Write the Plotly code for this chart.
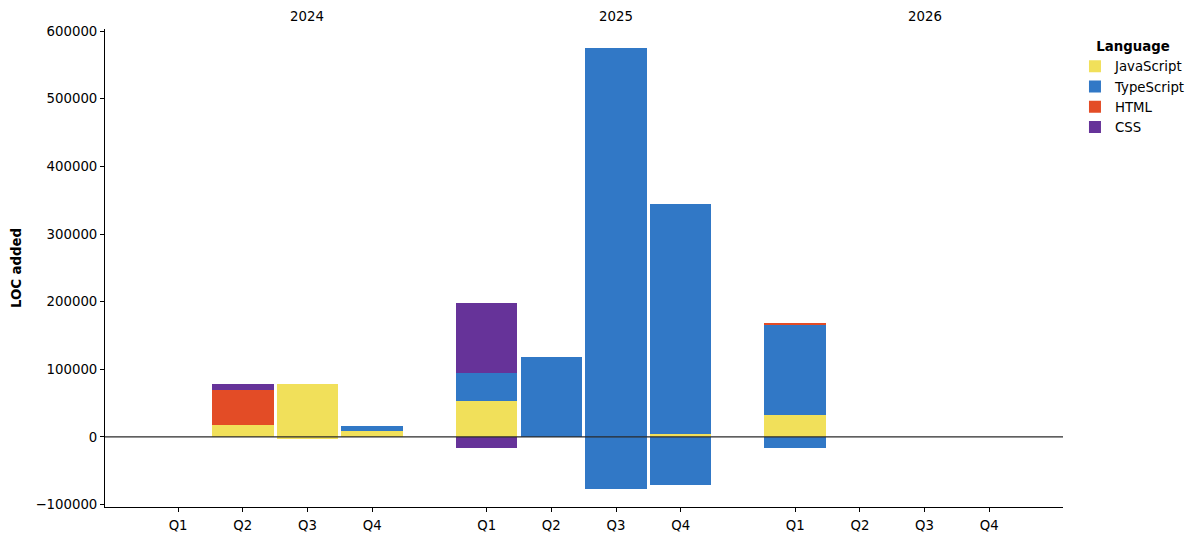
import plotly.graph_objects as go

years = ["2024", "2025", "2026"]
quarters = ["Q1", "Q2", "Q3", "Q4"]
languages = ["JavaScript", "TypeScript", "HTML", "CSS"]
colors = {"JavaScript": "#f1e05a", "TypeScript": "#3178c6", "HTML": "#e34c26", "CSS": "#663399"}

# LOC added per quarter (12 periods: 2024 Q1 .. 2026 Q4)
added_js   = [0, 17700, 78300, 8900, 53200, 0, 0, 4400, 32500, 0, 0, 0]
added_ts   = [0, 0, 0, 7400, 41400, 118200, 574800, 340000, 133000, 0, 0, 0]
added_html = [0, 51700, 0, 0, 0, 0, 0, 0, 3000, 0, 0, 0]
added_css  = [0, 8900, 0, 0, 103400, 0, 0, 0, 0, 0, 0, 0]
# LOC removed per quarter (negative)
removed_js   = [0, 0, -3000, 0, 0, 0, 0, 0, 0, 0, 0, 0]
removed_ts   = [0, 0, 0, 0, 0, 0, -76800, -70900, -15800, 0, 0, 0]
removed_html = [0, 0, 0, 0, 0, 0, 0, 0, 0, 0, 0, 0]
removed_css  = [0, 0, 0, 0, -16300, 0, 0, 0, 0, 0, 0, 0]

added = {"JavaScript": added_js, "TypeScript": added_ts, "HTML": added_html, "CSS": added_css}
removed = {"JavaScript": removed_js, "TypeScript": removed_ts, "HTML": removed_html, "CSS": removed_css}

GROUP = 4.77
xpos = [yi * GROUP + qi for yi in range(len(years)) for qi in range(len(quarters))]
xlabels = [q for _ in years for q in quarters]

FONT = "DejaVu Sans"
fig = go.Figure()

def clean(vals):
    return [v if v != 0 else None for v in vals]

for lang in languages:
    fig.add_trace(go.Bar(x=xpos, y=clean(added[lang]), name=lang, width=0.95,
                         marker=dict(color=colors[lang], line=dict(width=0)),
                         legendgroup=lang))
for lang in languages:
    fig.add_trace(go.Bar(x=xpos, y=clean(removed[lang]), name=lang, width=0.95,
                         marker=dict(color=colors[lang], line=dict(width=0)),
                         legendgroup=lang, showlegend=False))

for yi, yr in enumerate(years):
    fig.add_annotation(x=yi * GROUP + 2, y=1, xref="x", yref="paper", text=yr,
                       showarrow=False, yanchor="bottom", yshift=3,
                       font=dict(family=FONT, size=13.3, color="black"))

fig.add_shape(type="line", xref="paper", yref="y", x0=0, x1=1, y0=0, y1=0,
              line=dict(color="#2a2a2a", width=1.2), layer="above")

# page body adds an 8px offset; size the figure to fit the 1202x542 window
fig.update_layout(
    width=1186, height=526,
    barmode="relative",
    plot_bgcolor="white", paper_bgcolor="white",
    margin=dict(l=97, r=131, t=21, b=27, autoexpand=False),
    font=dict(family=FONT, size=13.3, color="black"),
    legend=dict(x=1.0125, y=0.99, xanchor="left", yanchor="top",
                title=dict(text="<b>Language</b>", side="top center", font=dict(family=FONT, size=13.3)),
                font=dict(family=FONT, size=13.3), tracegroupgap=0, itemwidth=30),
    bargap=0,
)
fig.update_xaxes(range=[-1.13, 13.68], tickvals=xpos, ticktext=xlabels,
                 showline=True, linecolor="black", linewidth=1,
                 ticks="outside", ticklen=4, tickwidth=1, tickcolor="black",
                 showgrid=False, zeroline=False, automargin=False, ticklabelstandoff=2,
                 tickfont=dict(family=FONT, size=13.3, color="black"))
fig.update_yaxes(range=[-103500, 603000], tick0=0, dtick=100000, tickformat="d",
                 showline=True, linecolor="black", linewidth=1,
                 ticks="outside", ticklen=4, tickwidth=1, tickcolor="black",
                 showgrid=False, zeroline=False, automargin=False,
                 tickfont=dict(family=FONT, size=13.3, color="black"),
                 title=dict(text="<b>LOC added</b>", standoff=10,
                            font=dict(family=FONT, size=13.3, color="black")))

fig.write_html("out.html")
